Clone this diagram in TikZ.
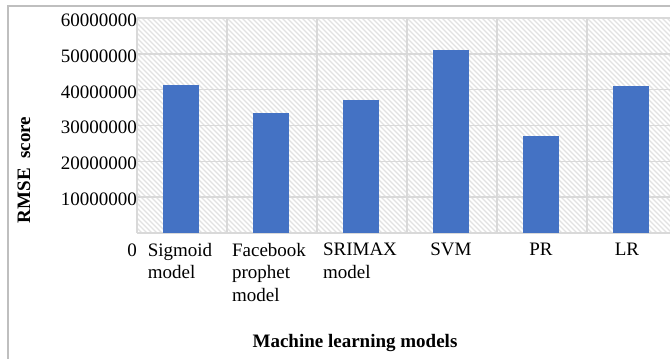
\documentclass[tikz,border=0pt]{standalone}
\usepackage{fontspec}
\setmainfont{Liberation Serif}
\definecolor{barblue}{HTML}{4472C4}
\definecolor{gridgray}{HTML}{D9D9D9}
\definecolor{hatchgray}{HTML}{E2E2E2}
\definecolor{framegray}{HTML}{BFBFBF}
\begin{document}
\begin{tikzpicture}[x=1bp,y=-1bp,
  lbl/.style={font=\fontsize{19bp}{22.5bp}\selectfont, inner sep=0pt},
  ticklbl/.style={lbl, anchor=east},
  catlbl/.style={lbl, anchor=north, align=left},
  ttl/.style={font=\fontsize{19bp}{22.5bp}\selectfont\bfseries, inner sep=0pt},
  bar/.style={fill=barblue},
  gridline/.style={draw=gridgray, line width=1.5bp},
  hatchline/.style={draw=hatchgray, line width=1.1bp},
  frameline/.style={draw=framegray, line width=2.2bp}
]
\useasboundingbox (0,0) rectangle (670,358);
\fill[white] (0,0) rectangle (670,358);
% hatched plot area
\begin{scope}
  \clip (137,18) rectangle (677,233);
  \foreach \i in {-45,...,110} {
    \draw[hatchline] (137+5*\i,18) -- (137+5*\i+215,233);
  }
\end{scope}
% grid
\foreach \k in {0,...,6} {
  \draw[gridline] (137,233-35.83*\k) -- (677,233-35.83*\k);
}
\foreach \k in {0,...,6} {
  \draw[gridline] (137+90*\k,18) -- (137+90*\k,233);
}
% bars
\foreach \v [count=\k from 0] in {41.2,33.4,37.1,51.0,27.2,41.0} {
  \fill[bar] (163+90*\k,233) rectangle (199+90*\k,233-3.583*\v);
}
% tick labels
\node[ticklbl] (t6) at (137,20) {60000000};
\node[ticklbl] (t5) at (137,56) {50000000};
\node[ticklbl] (t4) at (137,92) {40000000};
\node[ticklbl] (t3) at (137,127.5) {30000000};
\node[ticklbl] (t2) at (137,163.3) {20000000};
\node[ticklbl] (t1) at (137,199.2) {10000000};
\node[lbl, anchor=base] (t0) at (132,256) {0};
% category labels
\node[catlbl] (c1) at (180,243) {Sigmoid\\model};
\node[catlbl] (c2) at (269,243) {Facebook\\prophet\\model};
\node[catlbl] (c3) at (360,243) {SRIMAX\\model};
\node[catlbl] (c4) at (451,243) {SVM};
\node[catlbl] (c5) at (541,243) {PR};
\node[catlbl] (c6) at (627,243) {LR};
% axis titles
\node[ttl, rotate=90] (yt) at (24,170) {RMSE\ \ score};
\node[ttl, anchor=base] (xt) at (355,347) {Machine learning models};
% frame
\draw[frameline] (8,360) -- (8,6) -- (672,6);
\end{tikzpicture}
\end{document}
